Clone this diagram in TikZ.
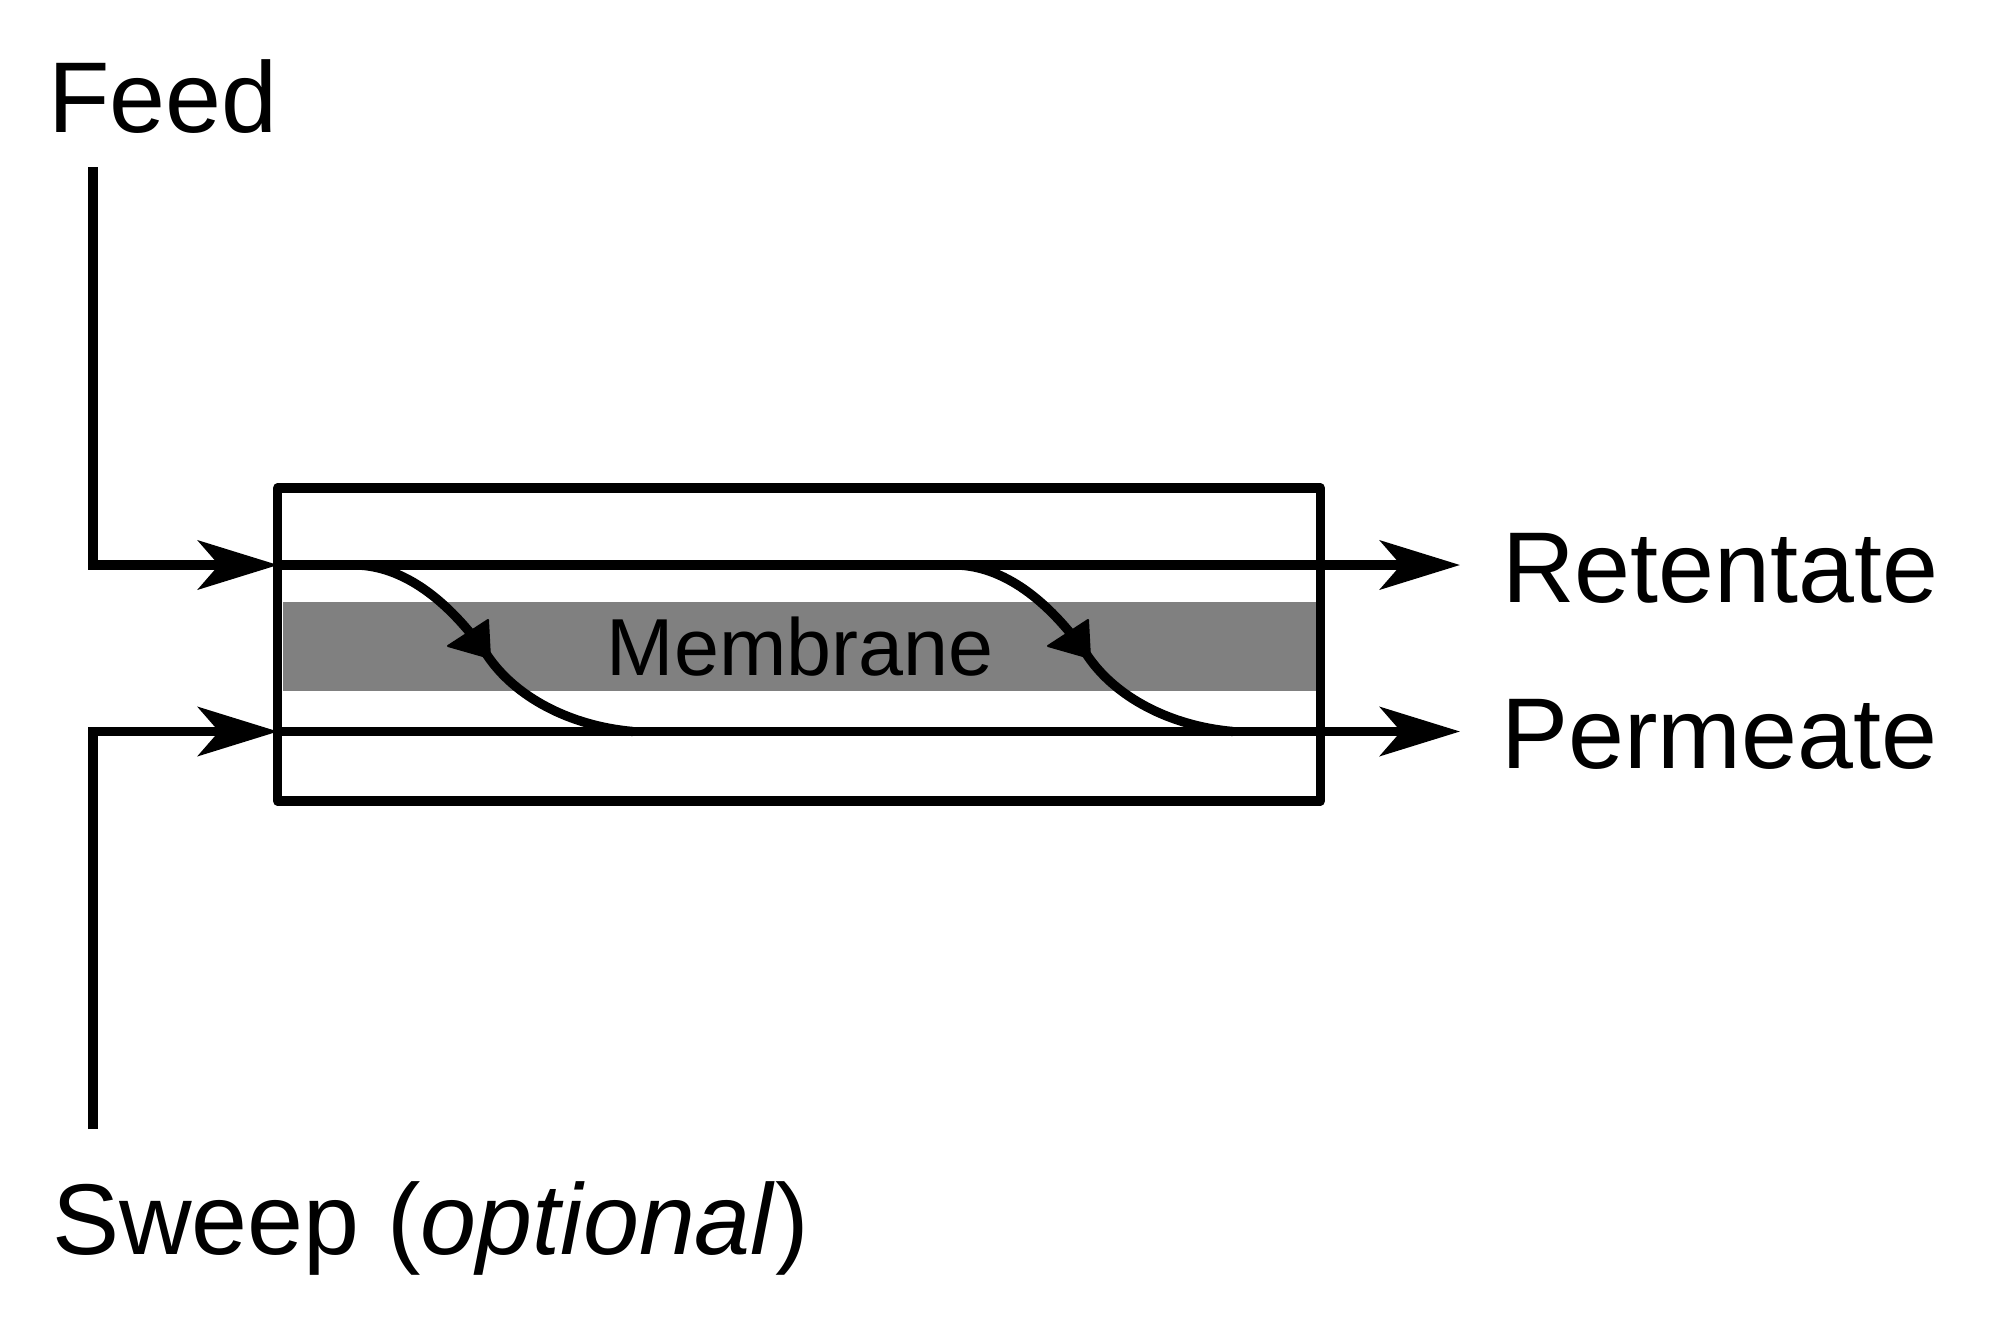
\documentclass[tikz,border=0pt]{standalone}
\usepackage{fontspec}
\setmainfont{Liberation Sans}
\usetikzlibrary{arrows.meta}
\begin{document}
\begin{tikzpicture}[x=0.01cm,y=-0.01cm,
  ln/.style={line width=0.093cm},
  flow/.style={ln,-{Stealth[length=0.8cm,width=0.49cm,inset=0.21cm]}},
  lbl/.style={anchor=base west,inner sep=0pt,outer sep=0pt,font=\fontsize{28.6pt}{34pt}\selectfont},
  membr/.style={fill={rgb,255:red,128;green,128;blue,128},draw=none,inner sep=0pt,outer sep=0pt,
    minimum width=10.34cm,minimum height=0.89cm,font=\fontsize{23pt}{28pt}\selectfont},
  modulebox/.style={ln,draw,line join=round,inner sep=0pt,outer sep=0pt,
    minimum width=10.42cm,minimum height=3.13cm},
  tipmark/.style={fill=black,draw=black,line width=0.02cm,line join=round}]
\useasboundingbox (0,0) rectangle (2000,1333);
% labels
\node[lbl] (feed) at (48,132) {Feed};
\node[lbl] (ret) at (1502,602) {Retentate};
\node[lbl] (perm) at (1501,768) {Permeate};
\node[lbl] (sweep) at (52,1254) {Sweep (\textit{optional})};
% membrane and module
\node[membr] (membrane) at (800,646.5) {Membrane};
\node[modulebox] (module) at (799,644.5) {};
% coordinates
\coordinate (feedstart) at (93,167);
\coordinate (sweepstart) at (93,1129);
\coordinate (inTop) at (278,565);
\coordinate (inBot) at (278,731.5);
\coordinate (retTip) at (1460,565);
\coordinate (permTip) at (1460,731.5);
% feed and sweep inlets
\draw[flow] (feedstart) |- (inTop);
\draw[flow] (sweepstart) |- (inBot);
% through lines to outlets
\draw[flow] (inTop) -- (retTip);
\draw[flow] (inBot) -- (permTip);
% permeation curves
\foreach \dx/\nm in {0/a,600/b}{
  \coordinate (c\nm0) at (356+\dx,565);
  \coordinate (c\nm1) at (487+\dx,655);
  \coordinate (c\nm2) at (633+\dx,731.5);
  \draw[ln] (c\nm0) .. controls (402+\dx,566) and (447+\dx,598) .. (c\nm1)
        .. controls (515+\dx,697) and (570+\dx,726) .. (c\nm2);
  \filldraw[tipmark] (448+\dx,646) -- (488+\dx,620) -- (490+\dx,658) -- cycle;
}
\end{tikzpicture}
\end{document}
